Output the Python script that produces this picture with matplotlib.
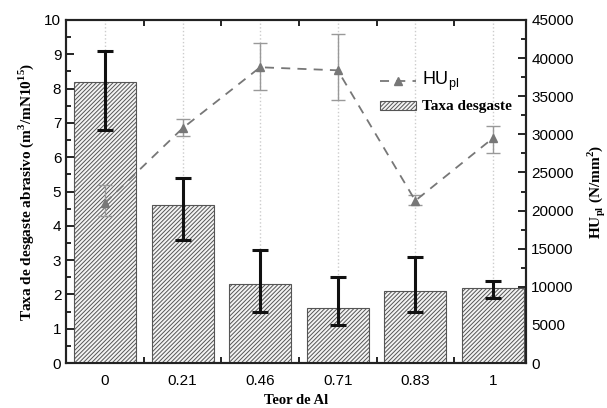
import matplotlib
matplotlib.use("Agg")
import matplotlib.pyplot as plt
import numpy as np
from matplotlib.ticker import MultipleLocator

categories = ["0", "0.21", "0.46", "0.71", "0.83", "1"]
taxa = [8.2, 4.6, 2.3, 1.6, 2.1, 2.2]
taxa_low = [6.8, 3.6, 1.5, 1.1, 1.5, 1.9]
taxa_high = [9.1, 5.4, 3.3, 2.5, 3.1, 2.4]
hu = [21000, 30800, 38800, 38400, 21300, 29500]
hu_low = [19300, 29800, 35800, 34500, 20800, 27500]
hu_high = [23400, 32000, 42000, 43200, 22100, 31100]

plt.rcParams['hatch.color'] = '#555555'
plt.rcParams['hatch.linewidth'] = 0.7

fig = plt.figure(figsize=(6.07, 4.08), dpi=100)
ax = fig.add_axes([0.109, 0.110, 0.758, 0.841])
ax2 = ax.twinx()
ax.set_zorder(1)
ax.patch.set_visible(False)
ax2.set_zorder(0)

x = np.arange(len(categories))
for xi in x:
    ax2.axvline(xi, color='#cccccc', ls=':', lw=1, zorder=0)

tl = np.array(taxa) - np.array(taxa_low)
th = np.array(taxa_high) - np.array(taxa)
ax.bar(x, taxa, width=0.8, color='#f4f4f4', edgecolor='#555555', hatch='////////',
       lw=0.8, label='Taxa desgaste', zorder=2)
ax.errorbar(x, taxa, yerr=[tl, th], fmt='none', ecolor='#111111', elinewidth=2.2,
            capsize=6, capthick=2.2, zorder=3)

hl = np.array(hu) - np.array(hu_low)
hh = np.array(hu_high) - np.array(hu)
line = ax.errorbar(x, np.array(hu) / 4500.0, yerr=[hl / 4500.0, hh / 4500.0],
                   fmt='^--', color='#777777', ecolor='#999999', elinewidth=1,
                   capsize=5, capthick=1, ms=6, lw=1.3, dashes=(5, 4), zorder=4,
                   label=r'HU$_{\mathregular{pl}}$')

ax.set_xlim(-0.5, 5.43)
ax.set_ylim(0, 10)
ax2.set_ylim(0, 45000)
ax.set_xticks(x)
ax.set_xticklabels(categories)
ax.xaxis.set_minor_locator(MultipleLocator(0.5))
ax.yaxis.set_major_locator(MultipleLocator(1))
ax.yaxis.set_minor_locator(MultipleLocator(0.5))
ax2.yaxis.set_major_locator(MultipleLocator(5000))
ax2.yaxis.set_minor_locator(MultipleLocator(2500))

sans = 'Liberation Sans'
serif = 'Liberation Serif'
for a in (ax, ax2):
    for lab in a.get_xticklabels() + a.get_yticklabels():
        lab.set_family(sans)
        lab.set_fontsize(11)
    for s in a.spines.values():
        s.set_linewidth(1.5)
        s.set_color('#222222')
ax.tick_params(axis='both', which='major', direction='in', length=6, width=1.2, top=True, labelsize=11)
ax.tick_params(axis='both', which='minor', direction='in', length=3.5, width=1.2, top=True)
ax.tick_params(axis='x', which='major', length=0, pad=8)
ax.tick_params(axis='x', which='minor', length=4)
ax2.tick_params(axis='y', which='major', direction='in', length=6, width=1.2, labelsize=11)
ax2.tick_params(axis='y', which='minor', direction='in', length=3.5, width=1.2)

ax.set_xlabel('Teor de Al', family=serif, fontweight='bold', fontsize=10.5, labelpad=4)
ax.set_ylabel('Taxa de desgaste abrasivo (m$^{\\mathregular{3}}$/mN10$^{\\mathregular{15}}$)',
              family=serif, fontweight='bold', fontsize=11, labelpad=6)
ax2.set_ylabel('HU$_{\\mathregular{pl}}$ (N/mm$^{\\mathregular{2}}$)', family=serif,
               fontweight='bold', fontsize=11, labelpad=8)

leg = ax.legend(handles=[line[0], ax.patches[0]],
                labels=[r'HU$_{\mathregular{pl}}$', 'Taxa desgaste'],
                loc='upper right', bbox_to_anchor=(0.995, 0.89), frameon=False,
                handlelength=2.6, handletextpad=0.4, labelspacing=0.5)
t0, t1 = leg.get_texts()
t0.set_family(sans); t0.set_fontsize(13)
t1.set_family(serif); t1.set_fontweight('bold'); t1.set_fontsize(11)

fig.savefig('out.png', dpi=100)
